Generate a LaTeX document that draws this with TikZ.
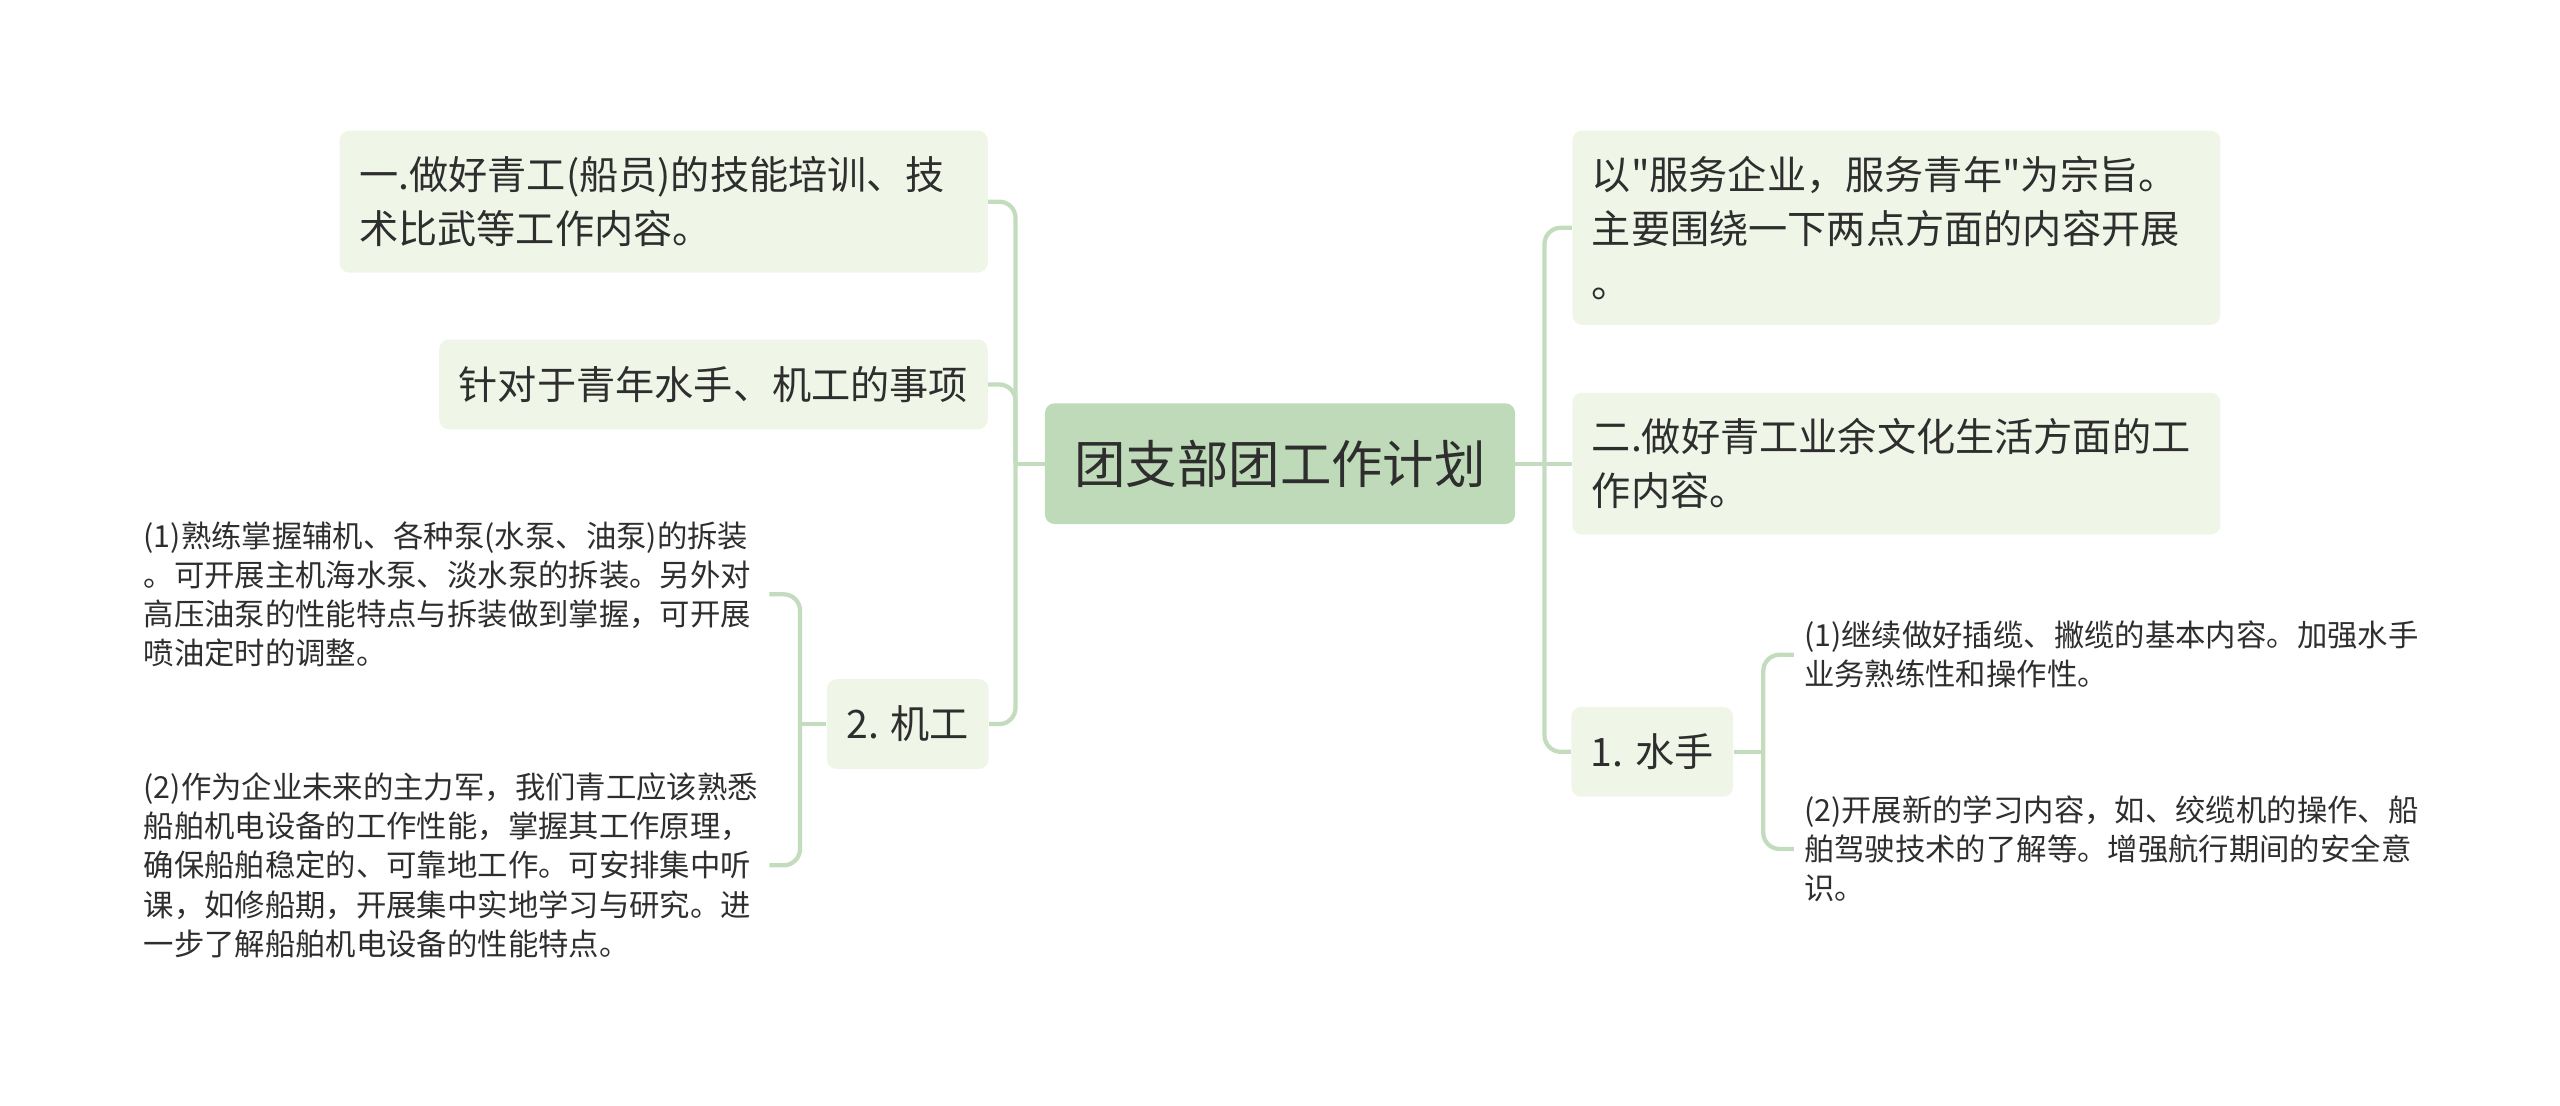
\documentclass[tikz,border=0pt]{standalone}
\usepackage{fontspec}
\setmainfont{Noto Sans CJK SC}[Ligatures=TeXOff]
\definecolor{rootfill}{HTML}{BFDAB9}
\definecolor{boxfill}{HTML}{EFF6E8}
\definecolor{linkcol}{HTML}{C3DCBE}
\definecolor{txt}{HTML}{2E2E2E}
\begin{document}
\begin{tikzpicture}[x=1pt,y=-1pt]
	\tikzset{topic/.style={rounded corners=6pt, fill=boxfill, text=txt, inner xsep=12pt, inner ysep=0pt, align=left, font=\fontsize{24}{33}\selectfont},
		leaf/.style={text=txt, inner xsep=6pt, inner ysep=0pt, text width=377pt, align=left, font=\fontsize{18.6}{24}\selectfont},
		link/.style={draw=linkcol, line width=2.6pt, rounded corners=10pt}}
	\useasboundingbox (0,0) rectangle (1568,677);
	\node[topic, fill=rootfill, minimum width=288pt, minimum height=74pt, align=center, font=\fontsize{31.5}{36}\selectfont] (root) at (784,284) {团支部团工作计划};
	% left side
	\node[topic, text width=373pt, minimum height=87pt] (L1) at (406.5,123.5) {一.做好青工(船员)的技能培训、技\\术比武等工作内容。};
	\node[topic, text width=312pt, minimum height=55pt] (L2) at (437,235.5) {针对于青年水手、机工的事项};
	\node[topic, minimum width=98pt, minimum height=55pt] (L3) at (556,443.5) {2. 机工};
	\node[leaf] (LA) at (276.5,364) {(1)熟练掌握辅机、各种泵(水泵、油泵)的拆装\\。可开展主机海水泵、淡水泵的拆装。另外对\\高压油泵的性能特点与拆装做到掌握，可开展\\喷油定时的调整。};
	\node[leaf] (LB) at (276.5,530) {(2)作为企业未来的主力军，我们青工应该熟悉\\船舶机电设备的工作性能，掌握其工作原理，\\确保船舶稳定的、可靠地工作。可安排集中听\\课，如修船期，开展集中实地学习与研究。进\\一步了解船舶机电设备的性能特点。};
	% right side
	\node[topic, text width=373pt, minimum height=119pt] (R1) at (1161.5,139.5) {以"服务企业，服务青年"为宗旨。\\主要围绕一下两点方面的内容开展\\。};
	\node[topic, text width=373pt, minimum height=87pt] (R2) at (1161.5,284) {二.做好青工业余文化生活方面的工\\作内容。};
	\node[topic, minimum width=98pt, minimum height=55pt] (R3) at (1012,460.5) {1. 水手};
	\node[leaf] (RA) at (1293.5,401) {(1)继续做好插缆、撇缆的基本内容。加强水手\\业务熟练性和操作性。};
	\node[leaf] (RB) at (1293.5,520) {(2)开展新的学习内容，如、绞缆机的操作、船\\舶驾驶技术的了解等。增强航行期间的安全意\\识。};
	% connectors
	\coordinate (lj) at (622,284);
	\coordinate (rj) at (946,284);
	\coordinate (mj) at (490,443.5);
	\coordinate (sj) at (1080,460.5);
	\draw[link] (root.west) -- (lj);
	\draw[link] (lj) |- (L1.east);
	\draw[link] (lj) |- (L2.east);
	\draw[link] (lj) |- (L3.east);
	\draw[link] (root.east) -- (rj);
	\draw[link] (rj) |- (R1.west);
	\draw[link] (rj) -- (R2.west);
	\draw[link] (rj) |- (R3.west);
	\draw[link] (L3.west) -- (mj);
	\draw[link] (mj) |- (LA.east);
	\draw[link] (mj) |- (LB.east);
	\draw[link] (R3.east) -- (sj);
	\draw[link] (sj) |- (RA.west);
	\draw[link] (sj) |- (RB.west);
\end{tikzpicture}
\end{document}
